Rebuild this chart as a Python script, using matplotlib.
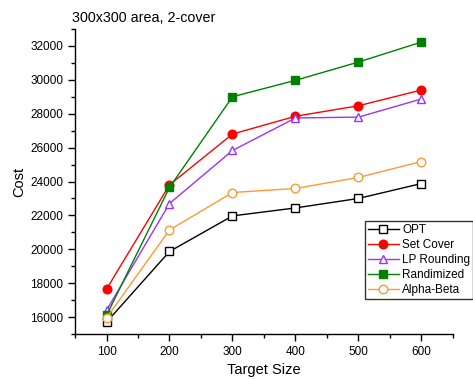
import numpy as np
import matplotlib.pyplot as plt
from matplotlib.ticker import MultipleLocator

plt.rcParams.update({
    "font.family": ["Liberation Sans", "DejaVu Sans"],
    "font.size": 8.5,
})

# data
sizes = [100, 200, 300, 400, 500, 600]
opt = [15700, 19870, 21970, 22440, 23000, 23880]
set_cover = [17650, 23800, 26800, 27850, 28470, 29400]
lp_rounding = [16400, 22700, 25830, 27750, 27800, 28870]
randimized = [16100, 23650, 29000, 29970, 31050, 32230]
alpha_beta = [15950, 21140, 23350, 23590, 24240, 25180]

fig = plt.figure(figsize=(4.73, 3.79), dpi=100)
ax = fig.add_axes([0.1586, 0.1187, 0.799, 0.8048])

sq = 5.3
rd = 6.2
ax.plot(sizes, opt, color='black', lw=1, marker='s', ms=sq, mfc='white', mec='black', label='OPT')
ax.plot(sizes, set_cover, color='red', lw=1, marker='o', ms=rd, mfc='red', mec='red', label='Set Cover')
ax.plot(sizes, lp_rounding, color='#9933ff', lw=1, marker='^', ms=rd, mfc='white', mec='#9933ff', label='LP Rounding')
ax.plot(sizes, randimized, color='#008000', lw=1, marker='s', ms=sq, mfc='#008000', mec='#008000', label='Randimized')
ax.plot(sizes, alpha_beta, color='#ff9933', lw=1, marker='o', ms=rd, mfc='white', mec='#ff9933', label='Alpha-Beta')

ax.set_xlim(50, 650)
ax.set_ylim(15000, 33000)
ax.xaxis.set_major_locator(MultipleLocator(100))
ax.xaxis.set_minor_locator(MultipleLocator(50))
ax.yaxis.set_major_locator(MultipleLocator(2000))
ax.yaxis.set_minor_locator(MultipleLocator(1000))
ax.set_xticks([100, 200, 300, 400, 500, 600])
ax.tick_params(which='major', direction='out', length=5, width=1, labelsize=8.5)
ax.tick_params(which='minor', direction='out', length=3, width=1)

ax.spines['top'].set_visible(False)
ax.spines['right'].set_visible(False)
for s in ['left', 'bottom']:
    ax.spines[s].set_linewidth(1)

ax.set_xlabel("Target Size", fontsize=10.5)
ax.set_ylabel("Cost", fontsize=10.5)
ax.xaxis.set_label_coords(0.5, -0.095)
ax.yaxis.set_label_coords(-0.13, 0.5)

fig.text(0.152, 0.935, "300x300 area, 2-cover", fontsize=10.3, ha='left', va='bottom')

leg = ax.legend(loc='upper left', bbox_to_anchor=(0.772, 0.417), bbox_transform=fig.transFigure,
                frameon=True, fancybox=False, fontsize=8.5, handlelength=2.6,
                borderpad=0.25, labelspacing=0.25, handletextpad=0.3, borderaxespad=0)
leg.get_frame().set_edgecolor('black')
leg.get_frame().set_linewidth(1)

fig.savefig("out.png", dpi=100)
